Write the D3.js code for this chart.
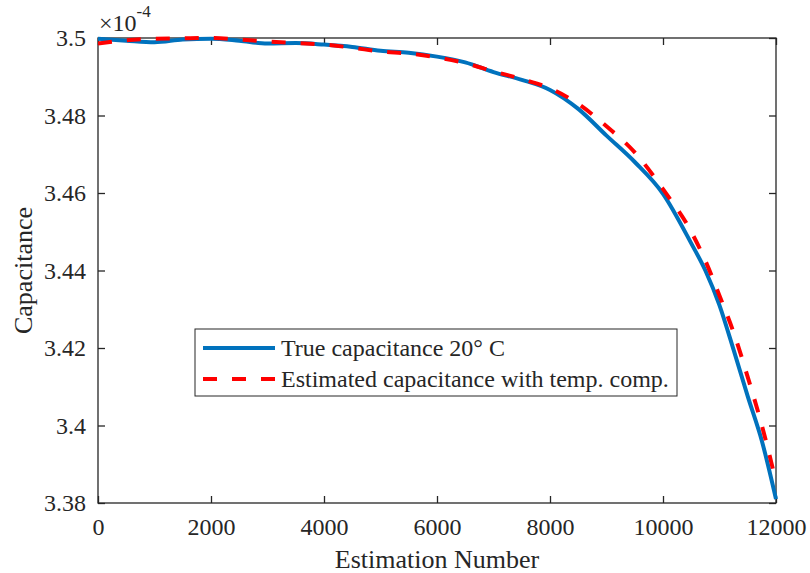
<!DOCTYPE html>
<html>
<head>
<meta charset="utf-8">
<script src="https://cdn.jsdelivr.net/npm/d3@7"></script>
<style>
  body { margin: 0; background: #fff; }
  svg text { font-family: "Liberation Serif", "Times New Roman", serif; }
</style>
</head>
<body>
<div id="chart"></div>
<script>
// datos (capacitancia en unidades de 1e-4)
const estNum = [0, 500, 1000, 1500, 2000, 2500, 3000, 3500, 4000, 4500, 5000, 5500, 6000,
  6500, 7000, 7500, 8000, 8500, 9000, 9500, 10000, 10500, 10750, 11000, 11250, 11500, 11750, 12000];
const trueCap = [3.4998, 3.4993, 3.4989, 3.4996, 3.4998, 3.4993, 3.4986, 3.4987, 3.4983, 3.4977, 3.4967, 3.4962, 3.4952,
  3.4937, 3.4912, 3.4892, 3.4866, 3.4817, 3.4748, 3.4680, 3.4598, 3.4470, 3.4400, 3.4310, 3.4195, 3.4075, 3.3960, 3.3810];
const estCap = [3.4986, 3.4994, 3.4998, 3.4999, 3.5000, 3.4996, 3.4991, 3.4987, 3.4983, 3.4975, 3.4965, 3.4960, 3.4950,
  3.4935, 3.4914, 3.4894, 3.4870, 3.4830, 3.4772, 3.4705, 3.4610, 3.4500, 3.4425, 3.4335, 3.4240, 3.4125, 3.4000, 3.3855];

const xTicks = [0, 2000, 4000, 6000, 8000, 10000, 12000];
const yTicks = [3.38, 3.4, 3.42, 3.44, 3.46, 3.48, 3.5];
const legendLabels = ["True capacitance 20\u00b0 C", "Estimated capacitance with temp. comp."];

const width = 810, height = 573;
const m = { left: 98, right: 776, top: 38, bottom: 503 };
const axisColor = "#262626";
const serif = "'Liberation Serif', 'Times New Roman', serif";

const svg = d3.select("#chart").append("svg").attr("width", width).attr("height", height);

const x = d3.scaleLinear().domain([0, 12000]).range([m.left, m.right]);
const y = d3.scaleLinear().domain([3.38, 3.5]).range([m.bottom, m.top]);

// ejes con ticks hacia dentro (abajo, izquierda, arriba, derecha)
const fmtY = d => String(+d.toFixed(2));
const gx = svg.append("g").attr("transform", `translate(0,${m.bottom})`)
  .call(d3.axisBottom(x).tickValues(xTicks).tickSize(-7).tickFormat(d3.format("d")));
gx.selectAll(".tick text").attr("y", 32).attr("dy", 0);
const gy = svg.append("g").attr("transform", `translate(${m.left},0)`)
  .call(d3.axisLeft(y).tickValues(yTicks).tickSize(-7).tickFormat(fmtY));
gy.selectAll(".tick text").attr("x", -12).attr("dy", "0.33em");
svg.append("g").attr("transform", `translate(0,${m.top})`)
  .call(d3.axisTop(x).tickValues(xTicks).tickSize(-7).tickFormat(""));
svg.append("g").attr("transform", `translate(${m.right},0)`)
  .call(d3.axisRight(y).tickValues(yTicks).tickSize(-7).tickFormat(""));

svg.selectAll(".domain").remove();
svg.selectAll("g").attr("font-family", null).attr("font-size", null);
svg.selectAll(".tick line").attr("stroke", axisColor).attr("stroke-width", 1.3);
svg.selectAll(".tick text").attr("fill", axisColor)
  .style("font-family", serif).style("font-size", "24px");

svg.append("rect")
  .attr("x", m.left).attr("y", m.top)
  .attr("width", m.right - m.left).attr("height", m.bottom - m.top)
  .attr("fill", "none").attr("stroke", axisColor).attr("stroke-width", 1.3);

// lineas
svg.append("clipPath").attr("id", "clip").append("rect")
  .attr("x", m.left).attr("y", m.top - 3).attr("width", m.right - m.left + 3).attr("height", m.bottom - m.top + 6);

const line = d3.line().x((d, i) => x(estNum[i])).y(d => y(d)).curve(d3.curveMonotoneX);

svg.append("path").datum(trueCap).attr("clip-path", "url(#clip)")
  .attr("d", line).attr("fill", "none").attr("stroke", "#0072BD").attr("stroke-width", 4);
svg.append("path").datum(estCap).attr("clip-path", "url(#clip)")
  .attr("d", line).attr("fill", "none").attr("stroke", "#FF0000").attr("stroke-width", 4)
  .attr("stroke-dasharray", "14,15");

// multiplicador del eje y
const expo = svg.append("text").attr("x", 99).attr("y", 31).attr("fill", axisColor)
  .style("font-family", serif).style("font-size", "24px");
expo.append("tspan").text("\u00d710");
expo.append("tspan").attr("dy", -14).style("font-size", "17px").text("-4");

// titulos de ejes
svg.append("text").attr("x", (m.left + m.right) / 2).attr("y", 568)
  .attr("text-anchor", "middle").attr("fill", axisColor)
  .style("font-family", serif).style("font-size", "26px").text("Estimation Number");
svg.append("text").attr("transform", `translate(32,${(m.top + m.bottom) / 2}) rotate(-90)`)
  .attr("text-anchor", "middle").attr("fill", axisColor)
  .style("font-family", serif).style("font-size", "26px").text("Capacitance");

// leyenda
const lg = svg.append("g");
lg.append("rect").attr("x", 195).attr("y", 329).attr("width", 482).attr("height", 67)
  .attr("fill", "#fff").attr("stroke", axisColor).attr("stroke-width", 1);
const legendStyle = [
  { color: "#0072BD", dash: null },
  { color: "#FF0000", dash: "14,15" }
];
legendLabels.forEach((lab, i) => {
  const yy = 348 + i * 31;
  lg.append("line").attr("x1", 203).attr("x2", 275).attr("y1", yy).attr("y2", yy)
    .attr("stroke", legendStyle[i].color).attr("stroke-width", 4)
    .attr("stroke-dasharray", legendStyle[i].dash);
  lg.append("text").attr("x", 281).attr("y", yy + 8).attr("fill", axisColor)
    .style("font-family", serif).style("font-size", "24px").text(lab);
});
</script>
</body>
</html>
